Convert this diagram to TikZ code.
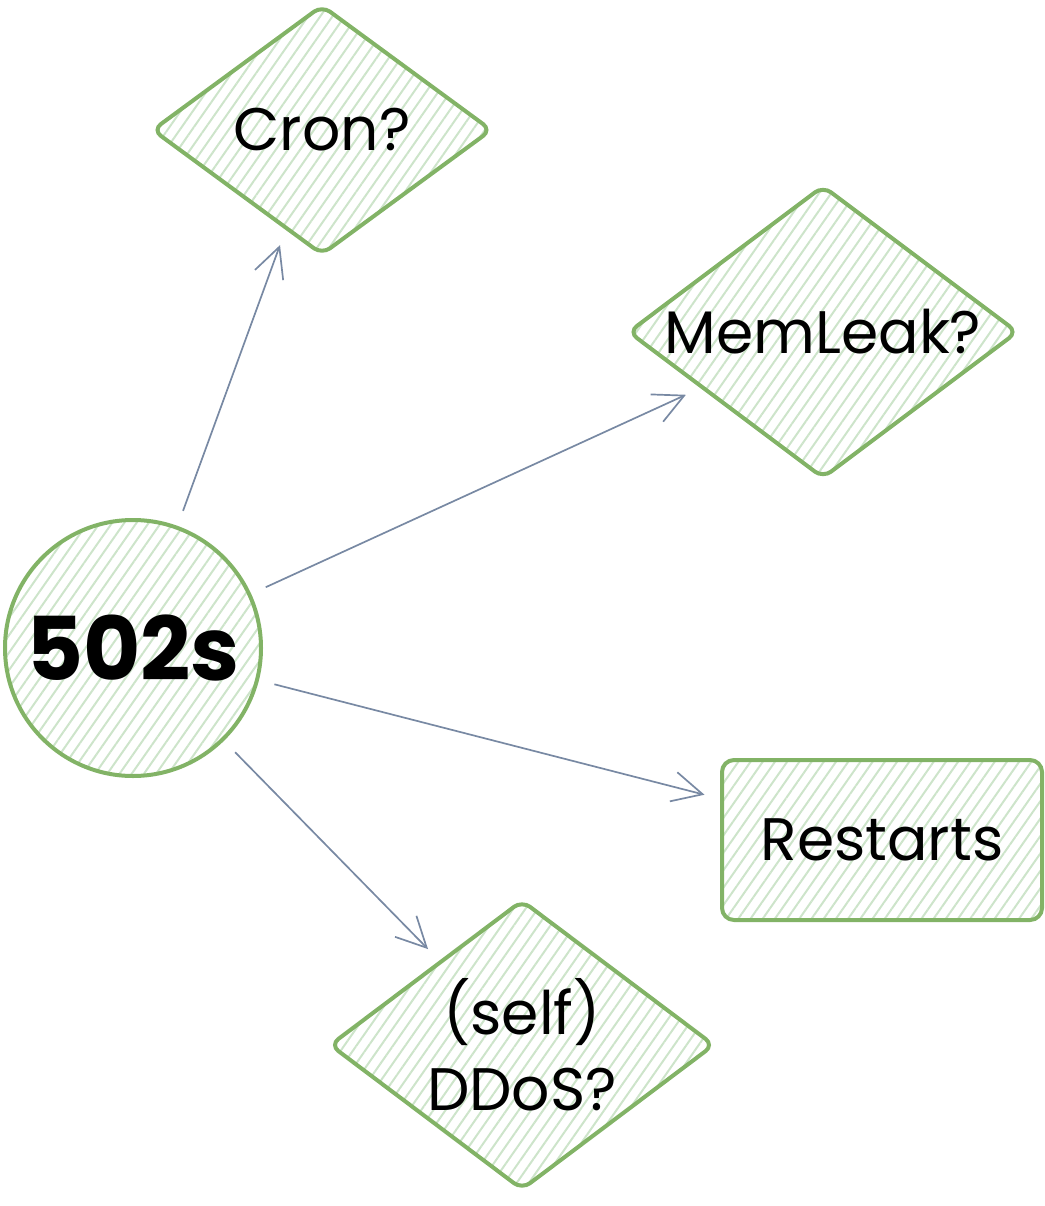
\documentclass[tikz,border=0pt]{standalone}
\usepackage{fontspec}
\setmainfont{Poppins}
\usetikzlibrary{shapes.geometric,arrows.meta,patterns.meta}
\definecolor{leafline}{HTML}{82B366}
\definecolor{leaffill}{HTML}{CDE4CA}
\definecolor{linkgray}{HTML}{7889A3}

\begin{document}
\begin{tikzpicture}[
    x=1pt, y=-1pt,
    every node/.style={font=\fontsize{60}{76}\selectfont},
    sketch/.style={draw=leafline, line width=4pt, pattern={Lines[angle=55,distance=10pt,line width=2pt]}, pattern color=leaffill, align=center, inner sep=0pt},
    question/.style={sketch, diamond, rounded corners=10pt, shape aspect=1.34},
    arrow/.style={-{Straight Barb[length=30pt,width=30pt]}, line width=1.7pt, draw=linkgray, shorten <=17pt, shorten >=16pt}
]
\useasboundingbox (0,0) rectangle (1044,1206);

\node[sketch, circle, minimum size=256pt, font=\fontsize{88}{90}\selectfont\bfseries] (err) at (133,648) {502s};
\node[question, minimum width=340pt, minimum height=250pt] (cron) at (322,130) {Cron?};
\node[question, minimum width=390pt, minimum height=293pt] (leak) at (823,332) {MemLeak?};
\node[sketch, rectangle, rounded corners=12pt, minimum width=320pt, minimum height=160pt] (restart) at (882,840) {Restarts};
\node[question, minimum width=385pt, minimum height=290pt] (ddos) at (522,1045) {(self)\\DDoS?};

\draw[arrow] (err) -- (cron);
\draw[arrow] (err) -- (leak);
\draw[arrow] (err) -- (restart);
\draw[arrow] (err) -- (ddos);
\end{tikzpicture}
\end{document}
